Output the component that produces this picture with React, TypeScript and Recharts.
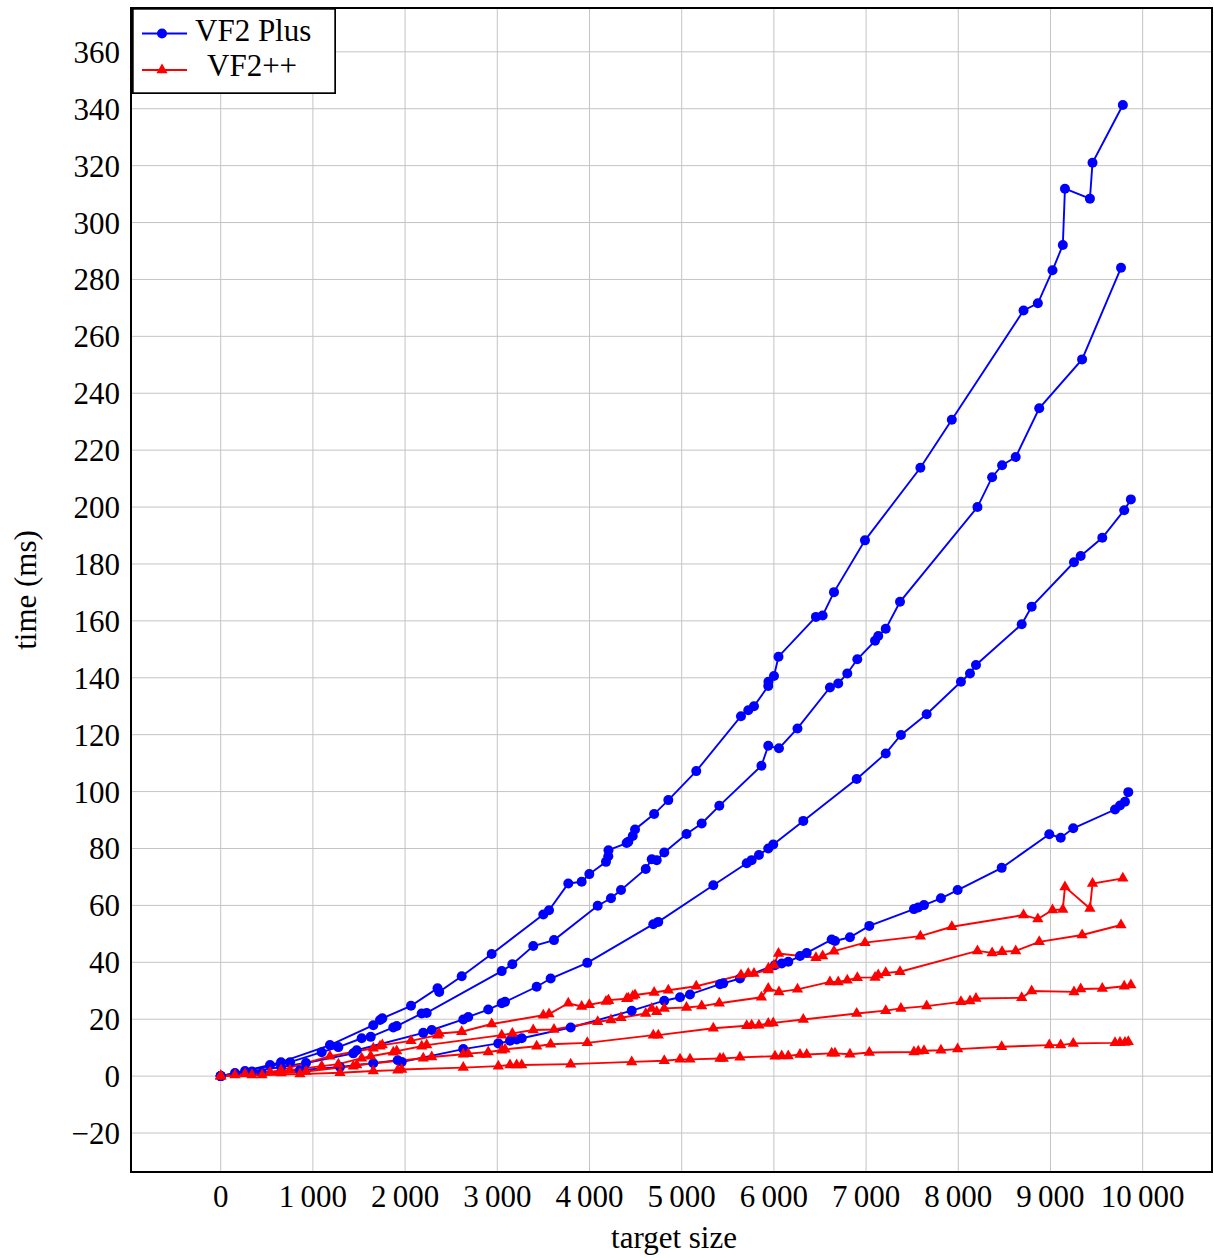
import React from 'react'
import { LineChart, Line, XAxis, YAxis, CartesianGrid, Legend, ReferenceArea } from 'recharts'

const WIDTH = 1214
const HEIGHT = 1258
const BLUE = '#0000ff'
const RED = '#ff0000'
const FONT = '"Liberation Serif", "DejaVu Serif", serif'
const FONT_SIZE = 31
const LINE_W = 1.9

// four runs, each measured with both algorithms on the same target sizes
const targetSize1 = [0, 155, 535, 654, 1185, 1655, 1728, 1753, 2064, 2352, 2370, 2614, 2939, 3499, 3561, 3770, 3915, 3998, 4179, 4204, 4206, 4403, 4421, 4469, 4494, 4701, 4855, 5158, 5643, 5722, 5784, 5939, 5941, 6001, 6050, 6456, 6529, 6652, 6988, 7589, 7930, 8708, 8863, 9022, 9134, 9157, 9428, 9456, 9785]
const vf2Plus1 = [0, 1.1, 3.9, 4.9, 10.9, 17.9, 19.7, 20.3, 24.7, 30.9, 29.6, 35.1, 42.9, 56.8, 58.3, 67.7, 68.3, 71.0, 75.3, 77.3, 79.4, 81.9, 82.4, 84.4, 86.7, 92.1, 97.0, 107.2, 126.5, 128.6, 130.0, 137.1, 138.6, 140.6, 147.4, 161.4, 161.9, 170.1, 188.3, 213.8, 230.7, 269.1, 271.6, 283.2, 292.1, 311.9, 308.4, 321.0, 341.3]
const vf2pp1 = [0, 0.4, 1.4, 2.1, 7.0, 9.8, 10.5, 10.9, 12.4, 14.4, 15.0, 15.6, 18.3, 21.4, 21.8, 25.6, 24.5, 25.1, 26.2, 26.5, 26.7, 27.2, 27.4, 28.1, 28.5, 29.4, 30.2, 31.6, 35.5, 36.1, 36.1, 37.3, 37.9, 39.0, 43.1, 41.6, 42.2, 43.9, 46.9, 49.2, 52.5, 56.6, 55.2, 58.4, 58.6, 66.5, 58.9, 67.7, 69.5]

const targetSize2 = [0, 264, 752, 1095, 1276, 1529, 1627, 1872, 1909, 2180, 2234, 3048, 3163, 3390, 3615, 4089, 4233, 4342, 4610, 4675, 4729, 4811, 5052, 5217, 5408, 5865, 5939, 6055, 6256, 6608, 6698, 6796, 6905, 7097, 7132, 7213, 7368, 8208, 8367, 8475, 8623, 8878, 9343, 9765]
const vf2Plus2 = [0, 1.8, 4.9, 8.4, 10.2, 13.3, 13.8, 17.1, 17.6, 22.0, 22.2, 36.9, 39.3, 45.7, 47.8, 59.9, 62.5, 65.4, 72.8, 76.2, 75.9, 78.6, 85.1, 88.8, 95.0, 109.1, 116.1, 115.2, 122.2, 136.6, 138.0, 141.5, 146.5, 153.0, 154.7, 157.2, 166.7, 200.0, 210.5, 214.7, 217.6, 234.7, 251.9, 284.1]
const vf2pp2 = [0, 0.7, 2.1, 3.5, 4.2, 6.3, 7.0, 8.4, 8.8, 10.5, 10.9, 14.4, 15.0, 16.2, 16.4, 19.1, 19.7, 20.5, 22.0, 23.8, 22.6, 23.8, 24.1, 24.6, 25.6, 27.7, 30.8, 29.6, 30.5, 33.1, 33.1, 33.7, 34.6, 34.7, 35.5, 36.3, 36.7, 44.0, 43.3, 43.7, 44.0, 47.2, 49.6, 53.1]

const targetSize3 = [0, 339, 654, 925, 1438, 1475, 2197, 2289, 2631, 2685, 2902, 3048, 3084, 3427, 3579, 3976, 4692, 4746, 5343, 5705, 5759, 5838, 5939, 5993, 6319, 6898, 7213, 7378, 7657, 8029, 8127, 8192, 8688, 8796, 9255, 9328, 9562, 9800, 9872]
const vf2Plus3 = [0, 1.6, 3.2, 4.6, 8.0, 9.1, 15.2, 16.2, 19.9, 20.8, 23.4, 25.6, 26.1, 31.4, 34.3, 39.8, 53.4, 54.2, 67.1, 74.8, 75.9, 77.7, 80.0, 81.4, 89.7, 104.4, 113.4, 119.9, 127.2, 138.6, 141.5, 144.5, 158.8, 165.0, 180.6, 182.8, 189.2, 198.9, 202.7]
const vf2pp3 = [0, 0.4, 1.1, 1.6, 3.5, 3.9, 6.3, 6.7, 7.7, 7.9, 8.5, 9.1, 9.4, 10.5, 11.2, 11.7, 14.4, 14.4, 16.8, 17.7, 17.9, 17.9, 18.5, 18.7, 19.9, 22.0, 23.0, 23.8, 24.6, 26.1, 26.4, 27.3, 27.5, 29.9, 29.6, 30.6, 30.8, 31.6, 32.0]

const targetSize4 = [0, 448, 860, 1294, 1655, 1920, 1963, 2631, 3011, 3138, 3210, 3265, 3796, 4458, 4811, 4982, 5090, 5415, 5451, 5632, 6012, 6085, 6156, 6283, 6356, 6627, 6663, 6825, 7035, 7519, 7566, 7628, 7812, 7993, 8471, 8987, 9111, 9247, 9700, 9754, 9808, 9844]
const vf2Plus4 = [0, 1.1, 2.1, 3.2, 4.5, 5.6, 5.0, 9.5, 11.5, 12.4, 12.9, 13.3, 17.1, 23.0, 26.5, 27.7, 28.7, 32.3, 32.6, 34.3, 39.0, 39.6, 40.2, 42.2, 43.3, 48.0, 47.5, 48.8, 52.8, 58.7, 59.3, 60.1, 62.5, 65.4, 73.2, 85.0, 83.8, 87.1, 93.7, 95.1, 96.4, 99.8]
const vf2pp4 = [0, 0.4, 0.7, 1.2, 1.8, 2.1, 2.3, 3.0, 3.5, 3.9, 3.9, 3.9, 4.2, 5.0, 5.4, 5.9, 5.9, 6.2, 6.2, 6.6, 7.0, 7.1, 7.1, 7.6, 7.6, 8.0, 8.0, 7.7, 8.3, 8.5, 8.7, 8.9, 9.1, 9.5, 10.3, 10.9, 10.9, 11.5, 11.7, 11.8, 11.8, 12.1]

const xTicks = [0, 1000, 2000, 3000, 4000, 5000, 6000, 7000, 8000, 9000, 10000]
const yTicks = [-20, 0, 20, 40, 60, 80, 100, 120, 140, 160, 180, 200, 220, 240, 260, 280, 300, 320, 340, 360]
const X_DOMAIN = [-973, 10752]
const Y_DOMAIN = [-33.7, 375.4]

const zip = (xs: number[], ys: number[]) => xs.map((x, i) => ({ x, time: ys[i] }))

const plusRuns = [zip(targetSize1, vf2Plus1), zip(targetSize2, vf2Plus2), zip(targetSize3, vf2Plus3), zip(targetSize4, vf2Plus4)]
const ppRuns = [zip(targetSize1, vf2pp1), zip(targetSize2, vf2pp2), zip(targetSize3, vf2pp3), zip(targetSize4, vf2pp4)]

// pgfplots-style number format: thin space as thousands separator, real minus sign
const fmt = (v: number) => {
  const s = String(Math.abs(v))
  const body = s.length > 3 ? s.slice(0, -3) + '\u2009' + s.slice(-3) : s
  return v < 0 ? '\u2212' + body : body
}

const triangle = (s: number) => (props: any) => {
  const { cx, cy, index } = props
  if (cx == null || cy == null) return <g key={index} />
  const h = s * 0.866
  return (
    <polygon
      key={index}
      points={`${cx},${cy - s} ${cx - h},${cy + s / 2} ${cx + h},${cy + s / 2}`}
      fill={RED}
    />
  )
}

const LegendBox = () => (
  <svg width={204} height={86} style={{ display: 'block' }}>
    <rect x={0.8} y={0.8} width={202.4} height={84.4} fill="#fff" stroke="#000" strokeWidth={1.8} />
    <line x1={10} x2={55} y1={25.5} y2={25.5} stroke={BLUE} strokeWidth={LINE_W} />
    <circle cx={30} cy={25.5} r={5} fill={BLUE} />
    <text x={63} y={33} fontSize={FONT_SIZE} fontFamily={FONT} fill="#000">VF2 Plus</text>
    <line x1={10} x2={55} y1={62} y2={62} stroke={RED} strokeWidth={LINE_W} />
    <polygon points="30,55.5 24.4,65.2 35.6,65.2" fill={RED} />
    <text x={75} y={68} fontSize={FONT_SIZE} fontFamily={FONT} fill="#000">VF2++</text>
  </svg>
)

const tickStyle = { fill: '#000', fontSize: FONT_SIZE, fontFamily: FONT }

export default function App() {
  return (
    <div style={{ position: 'absolute', left: 0, top: 0, background: '#fff' }}>
      <LineChart width={WIDTH} height={HEIGHT} margin={{ top: 8, right: 2, bottom: 0, left: 0 }}>
        <CartesianGrid stroke="#c4c4c4" strokeWidth={1} />
        <XAxis
          type="number"
          dataKey="x"
          domain={X_DOMAIN}
          allowDataOverflow
          ticks={xTicks}
          tickFormatter={fmt}
          height={86}
          tickSize={0}
          tickMargin={13}
          axisLine={false}
          tickLine={false}
          tick={tickStyle}
          label={{
            value: 'target size',
            content: () => (
              <text x={674} y={1248} textAnchor="middle" fontSize={FONT_SIZE} fontFamily={FONT} fill="#000">
                target size
              </text>
            ),
          }}
        />
        <YAxis
          type="number"
          domain={Y_DOMAIN}
          allowDataOverflow
          ticks={yTicks}
          tickFormatter={fmt}
          width={131}
          tickSize={0}
          tickMargin={11}
          axisLine={false}
          tickLine={false}
          tick={tickStyle}
          label={{
            value: 'time (ms)',
            content: () => (
              <text x={36} y={590} transform="rotate(-90, 36, 590)" textAnchor="middle" fontSize={FONT_SIZE} fontFamily={FONT} fill="#000">
                time (ms)
              </text>
            ),
          }}
        />
        {plusRuns.map((run, i) => (
          <Line
            key={`plus-${i}`}
            data={run}
            dataKey="time"
            type="linear"
            stroke={BLUE}
            strokeWidth={LINE_W}
            dot={{ r: 5, fill: BLUE, stroke: 'none' }}
            activeDot={false}
            legendType="none"
            isAnimationActive={false}
          />
        ))}
        {ppRuns.map((run, i) => (
          <Line
            key={`pp-${i}`}
            data={run}
            dataKey="time"
            type="linear"
            stroke={RED}
            strokeWidth={LINE_W}
            dot={triangle(6.5)}
            activeDot={false}
            legendType="none"
            isAnimationActive={false}
          />
        ))}
        <ReferenceArea
          x1={X_DOMAIN[0]}
          x2={X_DOMAIN[1]}
          y1={Y_DOMAIN[0]}
          y2={Y_DOMAIN[1]}
          fill="none"
          stroke="#000"
          strokeWidth={2}
          ifOverflow="visible"
        />
        <Legend
          layout="horizontal"
          verticalAlign="middle"
          align="center"
          content={() => <LegendBox />}
          wrapperStyle={{ left: 132, top: 8, width: 204, height: 86, lineHeight: 0 }}
        />
      </LineChart>
    </div>
  )
}
